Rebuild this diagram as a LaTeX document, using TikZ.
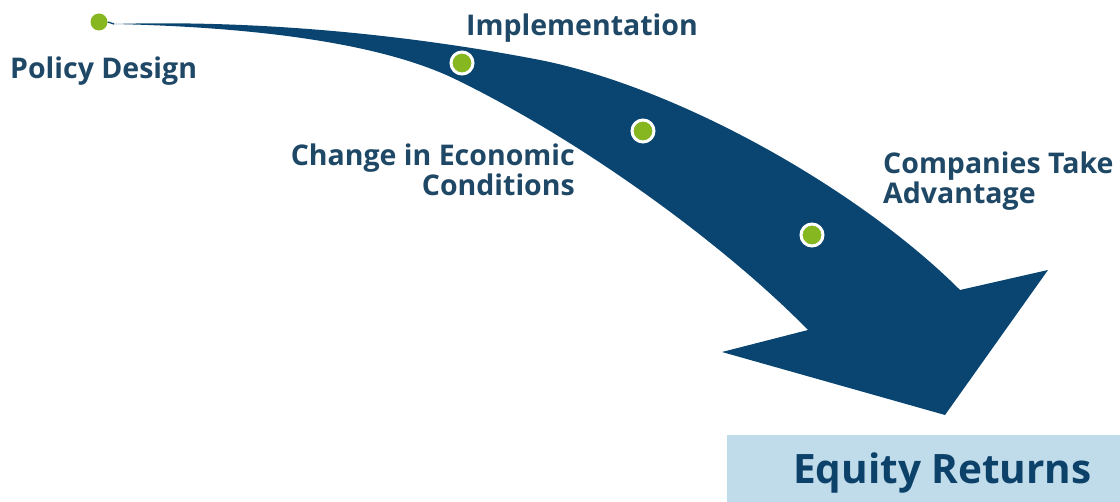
\documentclass[tikz,border=0pt]{standalone}
\usepackage{fontspec}
\setmainfont{Open Sans}
\usetikzlibrary{calc}
\definecolor{navy}{RGB}{9,69,112}
\definecolor{lbl}{RGB}{30,72,102}
\definecolor{leaf}{RGB}{134,182,32}
\definecolor{boxblue}{RGB}{192,219,233}
\definecolor{eqtext}{RGB}{12,65,106}
\tikzset{
  stage/.style={circle, fill=leaf, draw=white, line width=3pt, minimum size=22pt, inner sep=0pt},
  startdot/.style={circle, fill=leaf, minimum size=17pt, inner sep=0pt},
  label/.style={text=lbl, font=\fontsize{28.5}{27}\selectfont\bfseries, inner sep=0pt},
}
\begin{document}
\begin{tikzpicture}[x=1pt,y=-1pt]
\useasboundingbox (0,0) rectangle (1120,502);
% arrow body
\coordinate (start) at (114,24);
\fill[navy] (start) .. controls (250,20) and (400,33) .. (540,60)
  .. controls (680,88) and (860,190) .. (960,290)
  -- (1048,270) -- (945,415) -- (722,352) -- (808,330)
  .. controls (730,250) and (590,145) .. (457,80)
  .. controls (380,42) and (250,27) .. (start) -- cycle;
% dots
\node[startdot] (pd) at (99,22) {};
\draw[navy, line width=1.3pt] (pd.east) -- (start);
\node[stage] (impl) at (462,63) {};
\node[stage] (econ) at (643,131) {};
\node[stage] (comp) at (812,235) {};
% labels
\node[label, anchor=base west] (tpd) at (10,79) {Policy Design};
\node[label, anchor=base west] (timpl) at (466,36) {Implementation};
\node[label, anchor=north east, align=right] (tecon) at (575,144) {Change in Economic\\Conditions};
\node[label, anchor=north west, align=left] (tcomp) at (883,152) {Companies Take\\Advantage};
% result box
\fill[boxblue] (727,435) rectangle (1120,502);
\node[text=eqtext, font=\fontsize{40.5}{42}\selectfont\bfseries, anchor=base west, inner sep=0pt] (eq) at (793,484) {Equity Returns};
\end{tikzpicture}
\end{document}
